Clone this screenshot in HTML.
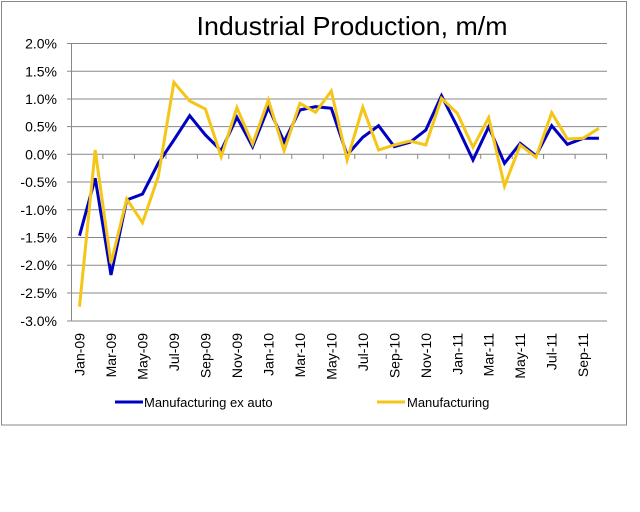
<!DOCTYPE html>
<html><head><meta charset="utf-8"><style>html,body{margin:0;padding:0;background:#fff}svg{display:block}</style></head><body>
<svg width="640" height="512" xmlns="http://www.w3.org/2000/svg" font-family="Liberation Sans, Arial, sans-serif">
<rect x="0" y="0" width="640" height="512" fill="#fff"/>
<rect x="1.5" y="1.5" width="625" height="423.5" fill="none" stroke="#888" stroke-width="1"/>
<text x="352" y="35" font-size="26" text-anchor="middle" fill="#000" textLength="311" lengthAdjust="spacingAndGlyphs">Industrial Production, m/m</text>
<g stroke="#888" stroke-width="1">
<line x1="67" y1="43.5" x2="607" y2="43.5"/>
<line x1="67" y1="71.3" x2="607" y2="71.3"/>
<line x1="67" y1="99" x2="607" y2="99"/>
<line x1="67" y1="126.6" x2="607" y2="126.6"/>
<line x1="67" y1="182" x2="607" y2="182"/>
<line x1="67" y1="209.8" x2="607" y2="209.8"/>
<line x1="67" y1="237.5" x2="607" y2="237.5"/>
<line x1="67" y1="265.2" x2="607" y2="265.2"/>
<line x1="67" y1="293" x2="607" y2="293"/>
<line x1="67" y1="321" x2="607" y2="321"/>
<line x1="71.5" y1="43" x2="71.5" y2="321"/>
<line x1="67" y1="154.3" x2="607" y2="154.3"/>
<line x1="102.9" y1="154" x2="102.9" y2="159"/><line x1="134.4" y1="154" x2="134.4" y2="159"/><line x1="165.9" y1="154" x2="165.9" y2="159"/><line x1="197.4" y1="154" x2="197.4" y2="159"/><line x1="228.8" y1="154" x2="228.8" y2="159"/><line x1="260.3" y1="154" x2="260.3" y2="159"/><line x1="291.8" y1="154" x2="291.8" y2="159"/><line x1="323.3" y1="154" x2="323.3" y2="159"/><line x1="354.8" y1="154" x2="354.8" y2="159"/><line x1="386.2" y1="154" x2="386.2" y2="159"/><line x1="417.7" y1="154" x2="417.7" y2="159"/><line x1="449.2" y1="154" x2="449.2" y2="159"/><line x1="480.7" y1="154" x2="480.7" y2="159"/><line x1="512.2" y1="154" x2="512.2" y2="159"/><line x1="543.6" y1="154" x2="543.6" y2="159"/><line x1="575.1" y1="154" x2="575.1" y2="159"/><line x1="606.6" y1="154" x2="606.6" y2="159"/>
</g>
<g font-size="14" text-anchor="end" fill="#000">
<text x="57" y="48.5">2.0%</text><text x="57" y="76.3">1.5%</text><text x="57" y="104">1.0%</text><text x="57" y="131.6">0.5%</text><text x="57" y="159.3">0.0%</text><text x="57" y="187">-0.5%</text><text x="57" y="214.8">-1.0%</text><text x="57" y="242.5">-1.5%</text><text x="57" y="270.2">-2.0%</text><text x="57" y="298">-2.5%</text><text x="57" y="326">-3.0%</text>
</g>
<g font-size="14" text-anchor="end" fill="#000">
<text transform="translate(84.5,333) rotate(-90)">Jan-09</text>
<text transform="translate(116,333) rotate(-90)">Mar-09</text>
<text transform="translate(147.5,333) rotate(-90)">May-09</text>
<text transform="translate(178.9,333) rotate(-90)">Jul-09</text>
<text transform="translate(210.4,333) rotate(-90)">Sep-09</text>
<text transform="translate(241.9,333) rotate(-90)">Nov-09</text>
<text transform="translate(273.4,333) rotate(-90)">Jan-10</text>
<text transform="translate(304.9,333) rotate(-90)">Mar-10</text>
<text transform="translate(336.3,333) rotate(-90)">May-10</text>
<text transform="translate(367.8,333) rotate(-90)">Jul-10</text>
<text transform="translate(399.3,333) rotate(-90)">Sep-10</text>
<text transform="translate(430.8,333) rotate(-90)">Nov-10</text>
<text transform="translate(462.3,333) rotate(-90)">Jan-11</text>
<text transform="translate(493.7,333) rotate(-90)">Mar-11</text>
<text transform="translate(525.2,333) rotate(-90)">May-11</text>
<text transform="translate(556.7,333) rotate(-90)">Jul-11</text>
<text transform="translate(588.2,333) rotate(-90)">Sep-11</text>
</g>
<polyline fill="none" stroke="#0000c0" stroke-width="3" stroke-linejoin="miter" points="79.5,235.7 95.2,178.3 111,275 126.7,200 142.5,194 158.2,163.3 173.9,140 189.7,115.7 205.4,135 221.2,150.7 236.9,117.3 252.6,146.7 268.4,107.3 284.1,141.7 299.9,110 315.6,106.7 331.3,108.3 347.1,155 362.8,137.3 378.6,125.7 394.3,146.7 410,142.3 425.8,130 441.5,95.7 457.3,126.7 473,160 488.7,126.7 504.5,163.3 520.2,143.3 536,155.7 551.7,125.7 567.4,144.3 583.2,138.3 598.9,138.3"/>
<polyline fill="none" stroke="#f5c518" stroke-width="3" stroke-linejoin="miter" points="79.5,306.7 95.2,150 111,263.3 126.7,199 142.5,222.7 158.2,176.7 173.9,82.3 189.7,101 205.4,109 221.2,156.7 236.9,107.7 252.6,144 268.4,100 284.1,150.7 299.9,103.3 315.6,112.3 331.3,91 347.1,160 362.8,107.3 378.6,150 394.3,145 410,141 425.8,145 441.5,98.3 457.3,113.3 473,147.3 488.7,117.7 504.5,186 520.2,145 536,157.3 551.7,112.7 567.4,139 583.2,138.3 598.9,128.3"/>
<line x1="115" y1="402" x2="143" y2="402" stroke="#0000c0" stroke-width="3"/>
<text x="144" y="407" font-size="13" fill="#000">Manufacturing ex auto</text>
<line x1="377" y1="402" x2="405" y2="402" stroke="#f5c518" stroke-width="3"/>
<text x="407" y="407" font-size="13" fill="#000">Manufacturing</text>
</svg>
</body></html>
